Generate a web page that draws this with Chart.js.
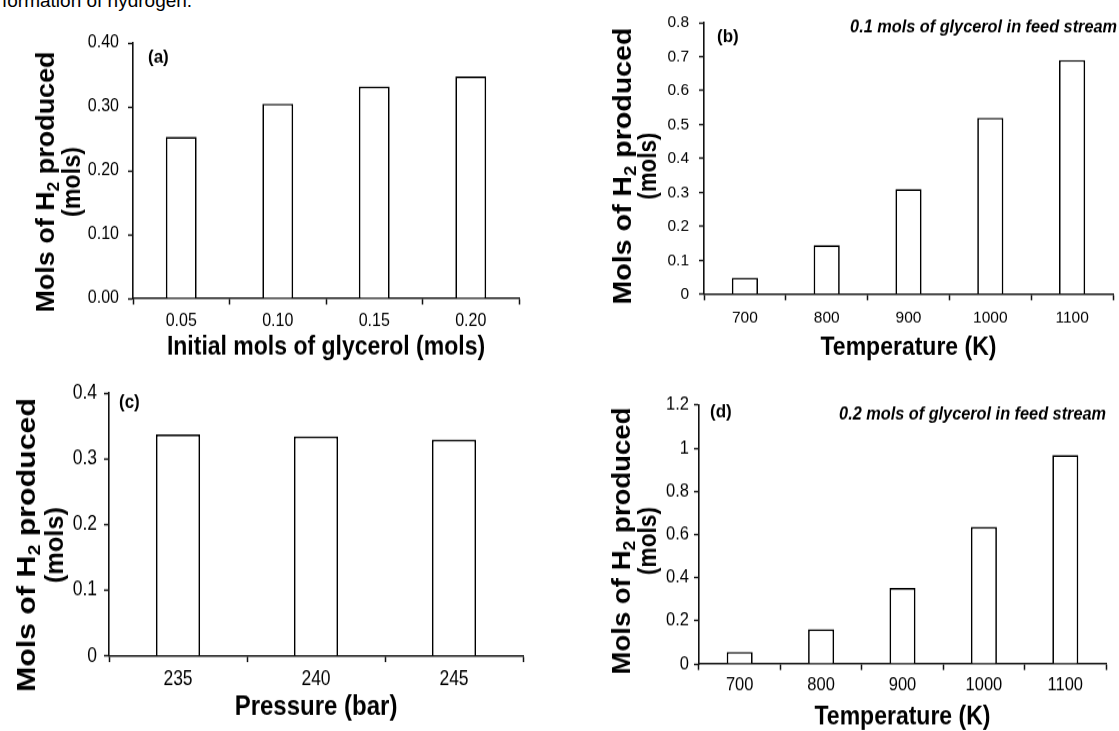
<!DOCTYPE html>
<html>
<head>
<meta charset="utf-8">
<script src="https://cdn.jsdelivr.net/npm/chart.js@4.4.1/dist/chart.umd.min.js"></script>
<style>
  html, body { margin: 0; padding: 0; background: #fff; }
  #page { position: relative; width: 1119px; height: 731px; overflow: hidden; background: #fff; }
  #page canvas { position: absolute; }
  .cut-line { position: absolute; left: 2px; top: -9px; font: 19px/19px 'Liberation Sans', Arial, sans-serif; color: #000; white-space: nowrap; }
</style>
</head>
<body>
<div id="page">
  <div class="cut-line">formation of hydrogen.</div>
  <canvas id="panelA"></canvas>
  <canvas id="panelB"></canvas>
  <canvas id="panelC"></canvas>
  <canvas id="panelD"></canvas>
</div>
<script>
/* Four bar panels: H2 produced vs glycerol feed, temperature and pressure.
   Values. The source panels are stretched vertically,
   so each canvas is drawn short and scaled up in CSS by its factor f. */

// (a) initial glycerol
const glycerolLabels = ['0.05', '0.10', '0.15', '0.20'];
const h2ByGlycerol = [0.253, 0.305, 0.332, 0.348];
const yTicksA = [0, 0.1, 0.2, 0.3, 0.4];
const yTickLabelsA = ['0.00', '0.10', '0.20', '0.30', '0.40'];

// (b) temperature, 0.1 mol glycerol
const tempLabels = ['700', '800', '900', '1000', '1100'];
const h2ByTemp01 = [0.049, 0.145, 0.31, 0.52, 0.69];
const yTicksB = [0, 0.1, 0.2, 0.3, 0.4, 0.5, 0.6, 0.7, 0.8];
const yTickLabelsB = ['0', '0.1', '0.2', '0.3', '0.4', '0.5', '0.6', '0.7', '0.8'];

// (c) pressure
const pressureLabels = ['235', '240', '245'];
const h2ByPressure = [0.337, 0.334, 0.329];
const yTicksC = [0, 0.1, 0.2, 0.3, 0.4];
const yTickLabelsC = ['0', '0.1', '0.2', '0.3', '0.4'];

// (d) temperature, 0.2 mol glycerol
const h2ByTemp02 = [0.056, 0.161, 0.352, 0.635, 0.968];
const yTicksD = [0, 0.2, 0.4, 0.6, 0.8, 1, 1.2];
const yTickLabelsD = ['0', '0.2', '0.4', '0.6', '0.8', '1', '1.2'];

const yTitleParts = ['Mols of H', '2', ' produced'];
const yTitleLine2 = '(mols)';

const SANS = "'Liberation Sans', Arial, sans-serif";
const AXIS = '#111';

/** Rotated two-line y title with a real subscript, each line fitted to a length. */
function drawYTitle(ctx, t) {
  const big = 'bold ' + t.size + 'px ' + SANS;
  const small = 'bold ' + Math.round(t.size * 0.62) + 'px ' + SANS;
  ctx.font = big;
  const wA = ctx.measureText(yTitleParts[0]).width;
  const wC = ctx.measureText(yTitleParts[2]).width;
  const w2 = ctx.measureText(yTitleLine2).width;
  ctx.font = small;
  const wB = ctx.measureText(yTitleParts[1]).width;
  const w = wA + wB + wC;

  ctx.save();
  ctx.translate(t.x1, t.cy);
  ctx.rotate(-Math.PI / 2);
  ctx.scale(t.len / w, 1);
  ctx.textAlign = 'left';
  ctx.textBaseline = 'alphabetic';
  let x = -w / 2;
  ctx.font = big; ctx.fillText(yTitleParts[0], x, 0); x += wA;
  ctx.font = small; ctx.fillText(yTitleParts[1], x, t.size * 0.2); x += wB;
  ctx.font = big; ctx.fillText(yTitleParts[2], x, 0);
  ctx.restore();

  ctx.save();
  ctx.translate(t.x2, t.cy);
  ctx.rotate(-Math.PI / 2);
  ctx.scale(t.len2 / w2, 1);
  ctx.textAlign = 'center';
  ctx.textBaseline = 'alphabetic';
  ctx.font = big;
  ctx.fillText(yTitleLine2, 0, 0);
  ctx.restore();
}

const panelText = {
  id: 'panelText',
  afterDraw(chart, args, o) {
    const ctx = chart.ctx;
    ctx.save();
    ctx.fillStyle = '#000';
    ctx.textBaseline = 'middle';
    ctx.textAlign = 'left';
    ctx.font = 'bold ' + o.labelSize + 'px ' + SANS;
    ctx.fillText(o.label, o.labelX, o.labelY);
    if (o.note) {
      ctx.font = 'italic bold ' + o.noteSize + 'px ' + SANS;
      ctx.textAlign = 'right';
      ctx.fillText(o.note, o.noteX, o.noteY);
    }
    drawYTitle(ctx, o.yTitle);
    ctx.restore();
  },
};

/** p holds the panel box and the wanted page positions (px, relative to the box). */
function makePanel(id, p) {
  const canvas = document.getElementById(id);
  const ch = Math.round(p.h / p.f);
  const f = p.h / ch;
  const sy = (v) => v / f;
  canvas.width = p.w;
  canvas.height = ch;
  canvas.style.cssText = 'left:' + p.left + 'px;top:' + p.top + 'px;width:' + p.w + 'px;height:' + p.h + 'px';

  const xTickLen = sy(6);
  const xPad = sy(p.xLabelY - p.bottom) - xTickLen - p.tickSize * 0.6;
  const xTitlePad = sy(p.h - p.xTitleY) - p.xTitleSize / 2;
  const t = p.text;

  return new Chart(canvas, {
    type: 'bar',
    data: {
      labels: p.labels,
      datasets: [{
        data: p.values,
        backgroundColor: '#fff',
        borderColor: '#000',
        borderWidth: 1.7,
        barPercentage: 0.32,
        categoryPercentage: 1,
      }],
    },
    options: {
      responsive: false,
      animation: false,
      layout: { padding: { left: 0, top: sy(p.top0), right: p.w - p.right, bottom: 0 } },
      plugins: {
        legend: { display: false },
        tooltip: { enabled: false },
        panelText: {
          label: t.label, labelSize: t.labelSize, labelX: t.labelX, labelY: sy(t.labelY),
          note: t.note, noteSize: t.noteSize, noteX: t.noteX, noteY: sy(t.noteY || 0),
          yTitle: { x1: t.x1, x2: t.x2, cy: sy(t.cy), len: sy(t.len), len2: sy(t.len2), size: t.size },
        },
      },
      scales: {
        x: {
          grid: { drawOnChartArea: false, color: AXIS, tickLength: xTickLen, tickWidth: 1.5 },
          border: { color: AXIS, width: 1.5 },
          ticks: { color: '#000', padding: xPad, maxRotation: 0, font: { family: SANS, size: p.tickSize } },
          title: {
            display: true, text: p.xTitle, color: '#000',
            font: { family: SANS, size: p.xTitleSize, weight: 'bold', lineHeight: 1 },
            padding: { top: 0, bottom: xTitlePad },
          },
          afterFit: (s) => { s.height = sy(p.h - p.bottom); },
        },
        y: {
          min: 0,
          max: p.yTicks[p.yTicks.length - 1],
          afterBuildTicks: (s) => { s.ticks = p.yTicks.map((v) => ({ value: v })); },
          grid: { drawOnChartArea: false, color: AXIS, tickLength: 5, tickWidth: 1.5 },
          border: { color: AXIS, width: 1.6 },
          ticks: { color: '#000', padding: p.yPad, font: { family: SANS, size: p.tickSize }, callback: (v, i) => p.yTickLabels[i] },
          afterFit: (s) => { s.width = p.leftAxis; },
        },
      },
    },
    plugins: [panelText],
  });
}

makePanel('panelA', {
  left: 0, top: 0, w: 560, h: 370, f: 1.1,
  leftAxis: 133, right: 519, top0: 43, bottom: 298.5, xLabelY: 320.7, xTitleY: 348,
  labels: glycerolLabels, values: h2ByGlycerol, yTicks: yTicksA, yTickLabels: yTickLabelsA,
  xTitle: 'Initial mols of glycerol (mols)', xTitleSize: 23, tickSize: 16, yPad: 9,
  text: { label: '(a)', labelSize: 17, labelX: 148, labelY: 58,
    x1: 54, x2: 80, cy: 182, len: 261, len2: 70, size: 25 },
});

makePanel('panelB', {
  left: 560, top: 0, w: 559, h: 370, f: 1.08,
  leftAxis: 144, right: 553, top0: 22.7, bottom: 294.3, xLabelY: 318, xTitleY: 348,
  labels: tempLabels, values: h2ByTemp01, yTicks: yTicksB, yTickLabels: yTickLabelsB,
  xTitle: 'Temperature (K)', xTitleSize: 23, tickSize: 15.5, yPad: 10,
  text: { label: '(b)', labelSize: 17, labelX: 157, labelY: 37,
    note: '0.1 mols of glycerol in feed stream', noteSize: 16.3, noteX: 557, noteY: 27.5,
    x1: 71, x2: 96, cy: 166, len: 277, len2: 67, size: 25 },
});

makePanel('panelC', {
  left: 0, top: 370, w: 560, h: 361, f: 1.15,
  leftAxis: 109, right: 523, top0: 23, bottom: 286, xLabelY: 310, xTitleY: 337,
  labels: pressureLabels, values: h2ByPressure, yTicks: yTicksC, yTickLabels: yTickLabelsC,
  xTitle: 'Pressure (bar)', xTitleSize: 24, tickSize: 17.5, yPad: 7,
  text: { label: '(c)', labelSize: 17, labelX: 119, labelY: 33,
    x1: 35, x2: 63, cy: 175, len: 294, len2: 76, size: 25 },
});

makePanel('panelD', {
  left: 560, top: 370, w: 559, h: 361, f: 1.1,
  leftAxis: 139, right: 546, top0: 35, bottom: 294, xLabelY: 315, xTitleY: 347.5,
  labels: tempLabels, values: h2ByTemp02, yTicks: yTicksD, yTickLabels: yTickLabelsD,
  xTitle: 'Temperature (K)', xTitleSize: 23, tickSize: 16.5, yPad: 5,
  text: { label: '(d)', labelSize: 17, labelX: 150, labelY: 42,
    note: '0.2 mols of glycerol in feed stream', noteSize: 16.3, noteX: 546, noteY: 45,
    x1: 70, x2: 96, cy: 171, len: 267, len2: 68, size: 25 },
});
</script>
</body>
</html>
